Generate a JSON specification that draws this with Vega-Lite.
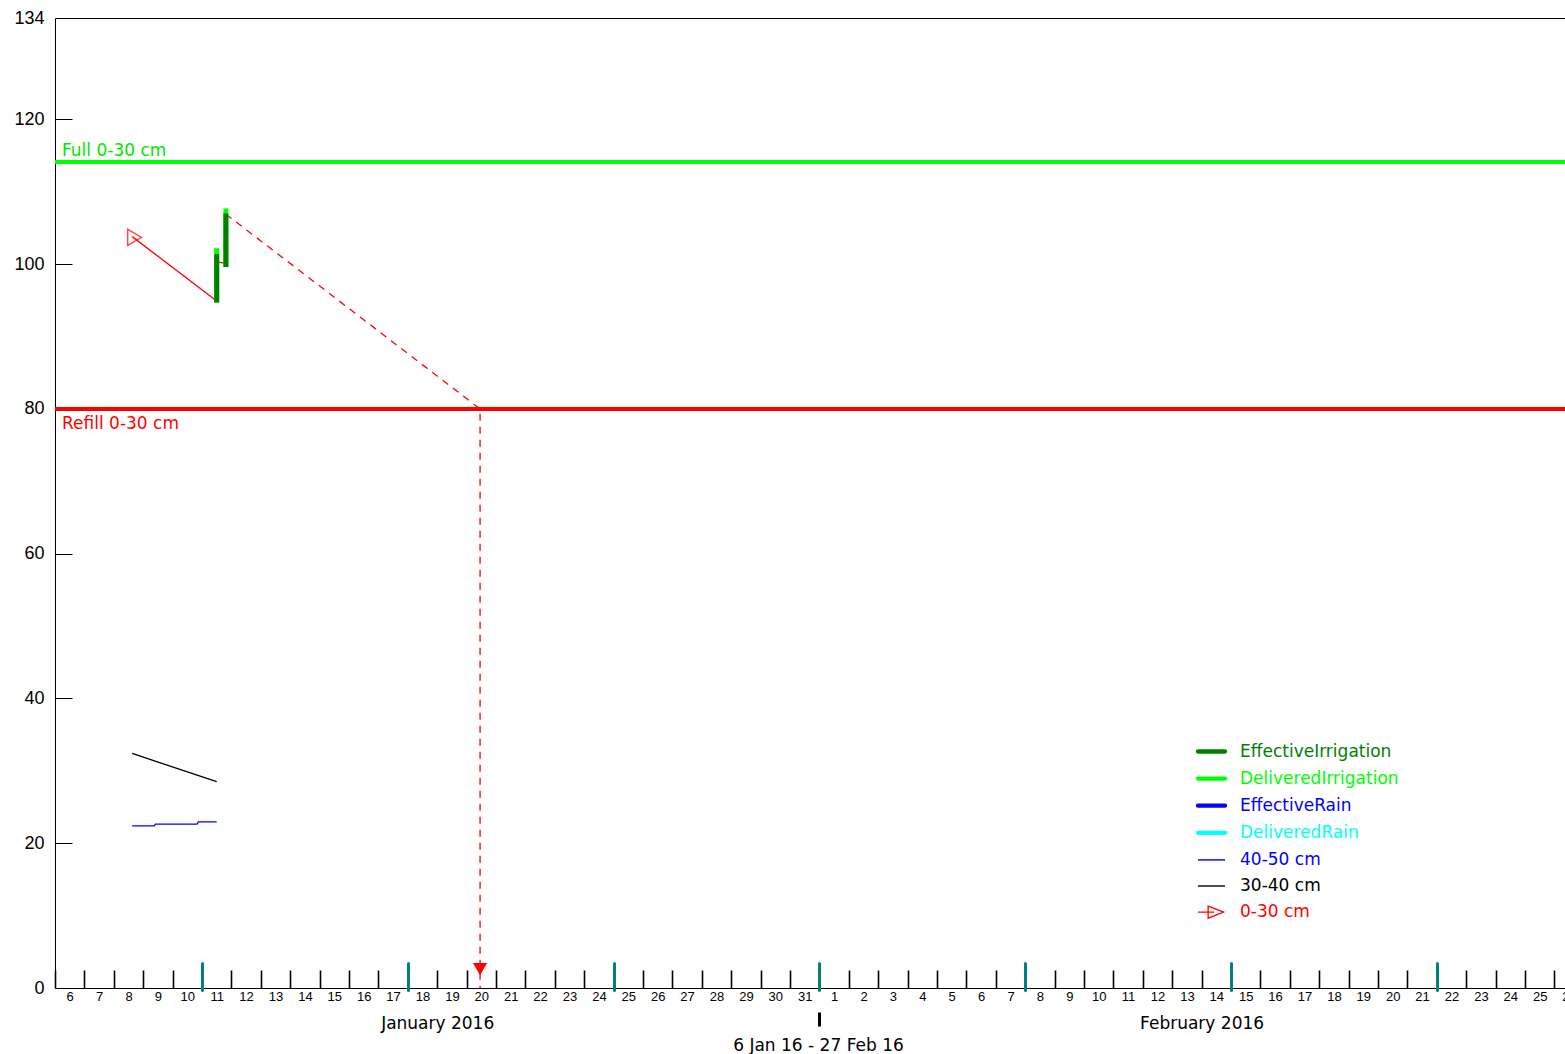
{
  "$schema": "https://vega.github.io/schema/vega-lite/v6.json",
  "width": 1510,
  "height": 970,
  "autosize": {"type": "none"},
  "padding": {"left": 55, "top": 18, "right": 0, "bottom": 66},
  "background": "white",
  "config": {"view": {"stroke": null}, "axis": {"grid": false, "titleFontWeight": "normal"}},
  "datasets": {
    "refLines": [
      {"name": "Full 0-30 cm", "v": 114.1},
      {"name": "Refill 0-30 cm", "v": 80}
    ],
    "red": [
      {"s": "0-30 cm", "seg": 1, "t": "2016-01-08T15:00:00Z", "v": 103.8},
      {"s": "0-30 cm", "seg": 1, "t": "2016-01-11T12:00:00Z", "v": 94.9},
      {"s": "0-30 cm", "seg": 2, "t": "2016-01-11T12:00:00Z", "v": 100.3},
      {"s": "0-30 cm", "seg": 2, "t": "2016-01-11T19:30:00Z", "v": 100.1}
    ],
    "proj": [
      {"s": "0-30 cm", "o": 1, "t": "2016-01-11T19:30:00Z", "v": 106.9},
      {"s": "0-30 cm", "o": 2, "t": "2016-01-20T11:00:00Z", "v": 80},
      {"s": "0-30 cm", "o": 3, "t": "2016-01-20T11:00:00Z", "v": 0}
    ],
    "black": [
      {"s": "30-40 cm", "t": "2016-01-08T15:00:00Z", "v": 32.4},
      {"s": "30-40 cm", "t": "2016-01-11T12:00:00Z", "v": 28.5}
    ],
    "blue": [
      {"s": "40-50 cm", "t": "2016-01-08T15:00:00Z", "v": 22.4},
      {"s": "40-50 cm", "t": "2016-01-09T09:00:00Z", "v": 22.4},
      {"s": "40-50 cm", "t": "2016-01-09T10:00:00Z", "v": 22.65},
      {"s": "40-50 cm", "t": "2016-01-10T20:00:00Z", "v": 22.65},
      {"s": "40-50 cm", "t": "2016-01-10T21:00:00Z", "v": 22.95},
      {"s": "40-50 cm", "t": "2016-01-11T12:00:00Z", "v": 22.95}
    ],
    "irr": [
      {"s": "DeliveredIrrigation", "t": "2016-01-11T12:00:00Z", "lo": 94.7, "hi": 102.2},
      {"s": "EffectiveIrrigation", "t": "2016-01-11T12:00:00Z", "lo": 94.7, "hi": 101.4},
      {"s": "DeliveredIrrigation", "t": "2016-01-11T19:30:00Z", "lo": 99.6, "hi": 107.7},
      {"s": "EffectiveIrrigation", "t": "2016-01-11T19:30:00Z", "lo": 99.6, "hi": 107.0}
    ],
    "start": [{"t": "2016-01-08T17:00:00Z", "v": 103.7}],
    "arrow": [{"t": "2016-01-20T11:00:00Z"}]
  },
  "layer": [
    {
      "data": {"name": "refLines"},
      "mark": {"type": "rule", "strokeWidth": 4},
      "encoding": {
        "y": {
          "field": "v", "type": "quantitative",
          "scale": {"domain": [0, 134], "nice": false, "zero": false},
          "axis": {
            "orient": "left", "values": [0, 20, 40, 60, 80, 100, 120, 134],
            "ticks": false, "labelPadding": 11, "labelFont": "Liberation Sans",
            "labelFontSize": 18, "labelColor": "black", "domainColor": "black",
            "domainWidth": 1, "title": null
          }
        },
        "stroke": {
          "field": "name", "type": "nominal",
          "scale": {"domain": ["Full 0-30 cm", "Refill 0-30 cm"], "range": ["#00ff00", "#ff0000"]},
          "legend": null
        }
      }
    },
    {
      "data": {"name": "refLines"},
      "transform": [{"filter": "datum.name === 'Full 0-30 cm'"}],
      "mark": {"type": "text", "align": "left", "baseline": "middle", "dx": 7, "dy": -11, "font": "DejaVu Sans", "fontSize": 17, "color": "#00e600"},
      "encoding": {
        "x": {"datum": {"year": 2016, "month": 1, "date": 6, "utc": true}, "type": "temporal", "axis": null},
        "y": {"field": "v", "type": "quantitative", "axis": null},
        "text": {"field": "name"}
      }
    },
    {
      "data": {"name": "refLines"},
      "transform": [{"filter": "datum.name === 'Refill 0-30 cm'"}],
      "mark": {"type": "text", "align": "left", "baseline": "middle", "dx": 7, "dy": 15, "font": "DejaVu Sans", "fontSize": 17, "color": "#ff0000"},
      "encoding": {
        "x": {"datum": {"year": 2016, "month": 1, "date": 6, "utc": true}, "type": "temporal", "axis": null},
        "y": {"field": "v", "type": "quantitative", "axis": null},
        "text": {"field": "name"}
      }
    },
    {
      "data": {"name": "red"},
      "mark": {"type": "line", "strokeWidth": 1.3},
      "encoding": {
        "x": {
          "field": "t", "type": "temporal",
          "scale": {"type": "utc", "nice": false, "domain": [{"year": 2016, "month": 1, "date": 6, "utc": true}, {"year": 2016, "month": 2, "date": 26, "hours": 8, "minutes": 40, "utc": true}]},
          "axis": {
            "orient": "bottom", "tickCount": {"interval": "day", "step": 1}, "format": "%-d",
            "labelOffset": 14.7, "labelPadding": 2, "ticks": false, "domain": true,
            "domainColor": "black", "domainWidth": 1, "labelFlush": false, "labelOverlap": false,
            "labelFont": "Liberation Sans", "labelFontSize": 13, "labelColor": "black",
            "labelAngle": 0, "title": null
          }
        },
        "y": {"field": "v", "type": "quantitative", "axis": null},
        "color": {
          "field": "s", "type": "nominal",
          "scale": {
            "domain": ["EffectiveIrrigation", "DeliveredIrrigation", "EffectiveRain", "DeliveredRain", "40-50 cm", "30-40 cm", "0-30 cm"],
            "range": ["#008000", "#00ff00", "#0000ff", "#00ffff", "#0000ff", "#000000", "#ff0000"]
          }
        },
        "detail": {"field": "seg"}
      }
    },
    {
      "data": {"name": "proj"},
      "mark": {"type": "line", "strokeWidth": 1.3, "strokeDash": [7, 6]},
      "encoding": {
        "x": {
          "field": "t", "type": "temporal",
          "axis": {
            "orient": "top", "offset": -970, "tickCount": {"interval": "day", "step": 1},
            "labels": false, "domain": false, "ticks": true, "tickSize": 18,
            "tickColor": "black", "tickWidth": 1.6, "title": null
          }
        },
        "y": {"field": "v", "type": "quantitative", "axis": null},
        "color": {"field": "s", "type": "nominal"},
        "order": {"field": "o"}
      }
    },
    {
      "data": {"name": "black"},
      "mark": {"type": "line", "strokeWidth": 1.3},
      "encoding": {
        "x": {
          "field": "t", "type": "temporal",
          "axis": {
            "orient": "top", "offset": -972,
            "values": [{"year": 2016, "month": 1, "date": 11, "utc": true}, {"year": 2016, "month": 1, "date": 18, "utc": true}, {"year": 2016, "month": 1, "date": 25, "utc": true}, {"year": 2016, "month": 2, "date": 1, "utc": true}, {"year": 2016, "month": 2, "date": 8, "utc": true}, {"year": 2016, "month": 2, "date": 15, "utc": true}, {"year": 2016, "month": 2, "date": 22, "utc": true}],
            "labels": false, "domain": false, "tickSize": 27, "tickWidth": 3,
            "tickColor": "#008080", "tickCap": "round", "title": null
          }
        },
        "y": {
          "field": "v", "type": "quantitative",
          "axis": {
            "orient": "right", "offset": -1510, "values": [20, 40, 60, 80, 100, 120],
            "labels": false, "domain": false, "tickSize": 17, "tickColor": "black",
            "tickWidth": 1, "title": null
          }
        },
        "color": {"field": "s", "type": "nominal"}
      }
    },
    {
      "data": {"name": "blue"},
      "mark": {"type": "line", "strokeWidth": 1.3},
      "encoding": {
        "x": {
          "field": "t", "type": "temporal",
          "axis": {
            "orient": "bottom",
            "values": [{"year": 2016, "month": 1, "date": 19, "utc": true}, {"year": 2016, "month": 2, "date": 14, "utc": true}],
            "labelExpr": "utcmonth(datum.value) == 0 ? 'January 2016' : 'February 2016'",
            "ticks": false, "domain": false, "labelPadding": 27, "labelFont": "DejaVu Sans",
            "labelFontSize": 17, "labelColor": "black", "labelFlush": false,
            "labelOverlap": false, "labelAngle": 0, "title": null
          }
        },
        "y": {"field": "v", "type": "quantitative", "axis": null},
        "color": {"field": "s", "type": "nominal"}
      }
    },
    {
      "data": {"name": "irr"},
      "mark": {"type": "rule", "strokeWidth": 5},
      "encoding": {
        "x": {
          "field": "t", "type": "temporal",
          "axis": {
            "orient": "bottom", "offset": 24,
            "values": [{"year": 2016, "month": 2, "date": 1, "utc": true}],
            "labels": false, "domain": false, "tickSize": 14, "tickWidth": 3,
            "tickColor": "black", "title": "6 Jan 16 - 27 Feb 16",
            "titleFont": "DejaVu Sans", "titleFontSize": 17, "titleColor": "black",
            "titleFontWeight": "normal", "titleX": 763, "titleY": 25,
            "titleAlign": "center", "titleBaseline": "top"
          }
        },
        "y": {"field": "lo", "type": "quantitative", "axis": null},
        "y2": {"field": "hi"},
        "color": {
          "field": "s", "type": "nominal",
          "legend": {
            "orient": "none", "legendX": 1148, "legendY": 725, "title": null,
            "symbolType": "stroke", "symbolSize": 729, "symbolStrokeWidth": 4,
            "labelFont": "DejaVu Sans", "labelFontSize": 17, "labelOffset": 20,
            "rowPadding": 8.1, "padding": 0, "labelLimit": 400,
            "encode": {
              "symbols": {
                "update": {
                  "strokeWidth": {"signal": "datum.value === '40-50 cm' || datum.value === '30-40 cm' ? 1.4 : datum.value === '0-30 cm' ? 1.3 : 4.3"},
                  "shape": {"signal": "datum.value === '0-30 cm' ? 'M-1,0L0.2,0M-0.25,-0.45L0.9,0L-0.25,0.45Z' : 'stroke'"},
                  "strokeCap": {"signal": "datum.value === '40-50 cm' || datum.value === '30-40 cm' || datum.value === '0-30 cm' ? 'butt' : 'round'"},
                  "fill": {"value": "transparent"}
                }
              },
              "labels": {
                "update": {"fill": {"signal": "scale('color', datum.value)"}}
              }
            }
          }
        }
      }
    },
    {
      "data": {"name": "start"},
      "mark": {"type": "point", "shape": "triangle-right", "filled": false, "color": "#ff0000", "size": 260, "strokeWidth": 1.5},
      "encoding": {
        "x": {
          "field": "t", "type": "temporal",
          "axis": {"orient": "top", "ticks": false, "labels": false, "domain": true, "domainColor": "black", "domainWidth": 1, "title": null}
        },
        "y": {"field": "v", "type": "quantitative", "axis": null}
      }
    },
    {
      "data": {"name": "arrow"},
      "mark": {"type": "point", "shape": "triangle-down", "filled": true, "color": "#ff0000", "size": 200, "opacity": 1},
      "encoding": {
        "x": {"field": "t", "type": "temporal", "axis": null},
        "y": {"datum": 2.6, "type": "quantitative", "axis": null}
      }
    }
  ],
  "resolve": {"axis": {"x": "independent", "y": "independent"}}
}
